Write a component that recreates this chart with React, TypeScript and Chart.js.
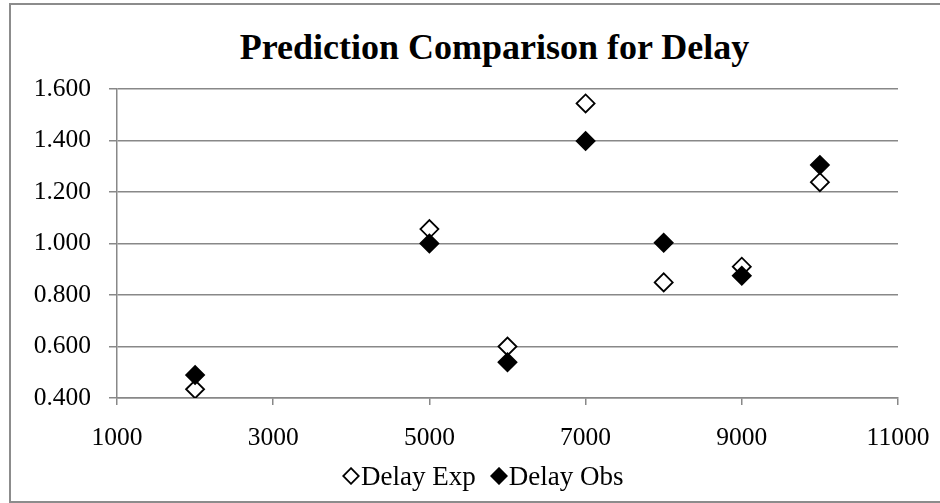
import React, { useEffect, useRef } from "react";
import { Chart, registerables } from "chart.js";

Chart.register(...registerables);

// Sample sizes on the horizontal axis
const sampleSizes = [2000, 5000, 6000, 7000, 8000, 9000, 10000];
// Expected (predicted) delay
const delayExp = [0.434, 1.056, 0.6, 1.544, 0.849, 0.91, 1.238];
// Observed delay
const delayObs = [0.489, 1.0, 0.539, 1.398, 1.003, 0.875, 1.305];

const chartTitle = "Prediction Comparison for Delay";
const seriesNames = ["Delay Exp", "Delay Obs"];

const SERIF = '"Liberation Serif", "Times New Roman", serif';
const GRID = "#888888";

function Diamond({ filled }: { filled: boolean }) {
  return (
    <svg width="18" height="18" viewBox="0 0 18 18" style={{ display: "block" }}>
      <polygon
        points="9,1.2 16.8,9 9,16.8 1.2,9"
        fill={filled ? "#000" : "#fff"}
        stroke="#000"
        strokeWidth="1.8"
      />
    </svg>
  );
}

export default function App() {
  const canvasRef = useRef<HTMLCanvasElement | null>(null);

  useEffect(() => {
    const canvas = canvasRef.current;
    if (!canvas) return;
    const toPoints = (ys: number[]) => sampleSizes.map((x, i) => ({ x, y: ys[i] }));

    const chart = new Chart(canvas, {
      type: "scatter",
      data: {
        datasets: [
          {
            label: seriesNames[0],
            data: toPoints(delayExp),
            pointStyle: "rectRot",
            pointRadius: 9,
            pointHoverRadius: 9,
            pointBorderWidth: 1.8,
            backgroundColor: "#ffffff",
            borderColor: "#000000",
            order: 1,
          },
          {
            label: seriesNames[1],
            data: toPoints(delayObs),
            pointStyle: "rectRot",
            pointRadius: 9,
            pointHoverRadius: 9,
            pointBorderWidth: 1.8,
            backgroundColor: "#000000",
            borderColor: "#000000",
            order: 0,
          },
        ],
      },
      options: {
        responsive: false,
        animation: false,
        layout: { padding: { left: 0, right: 63, top: 84, bottom: 0 } },
        plugins: {
          legend: { display: false },
          tooltip: { enabled: false },
          title: { display: false },
        },
        scales: {
          x: {
            type: "linear",
            min: 1000,
            max: 11000,
            ticks: {
              stepSize: 2000,
              color: "#000",
              padding: 17.7,
              maxRotation: 0,
              font: { family: SERIF, size: 25.5 },
              callback: (v: any) => String(v),
            },
            grid: {
              drawOnChartArea: false,
              drawTicks: true,
              tickLength: 7,
              color: GRID,
              lineWidth: 1.5,
            },
            border: { display: true, color: GRID, width: 1.5 },
            afterFit: (scale: any) => {
              scale.height = 102;
            },
          },
          y: {
            min: 0.4,
            max: 1.6,
            ticks: {
              stepSize: 0.2,
              color: "#000",
              padding: 18,
              font: { family: SERIF, size: 25.5 },
              callback: (v: any) => Number(v).toFixed(3),
            },
            grid: {
              color: GRID,
              lineWidth: 1.5,
              drawTicks: true,
              tickLength: 8,
            },
            border: { display: true, color: GRID, width: 1.5 },
            afterFit: (scale: any) => {
              scale.width = 106;
            },
          },
        },
      },
    });
    return () => chart.destroy();
  }, []);

  return (
    <div
      style={{
        position: "absolute",
        left: 0,
        top: 0,
        width: 940,
        height: 503,
        overflow: "hidden",
        background: "#fff",
      }}
    >
      <div
        style={{
          position: "absolute",
          left: 9,
          top: 3,
          width: 1000,
          height: 500,
          boxSizing: "border-box",
          border: "2px solid #8c8c8c",
        }}
      />
      <div
        style={{
          position: "absolute",
          left: 0,
          top: 25,
          width: 989,
          textAlign: "center",
          fontFamily: SERIF,
          fontWeight: "bold",
          fontSize: 36,
          lineHeight: "44px",
          color: "#000",
          whiteSpace: "nowrap",
        }}
      >
        {chartTitle}
      </div>
      <canvas
        ref={canvasRef}
        width={950}
        height={495}
        style={{ position: "absolute", left: 11, top: 5, width: 950, height: 495 }}
      />
      <div
        style={{
          position: "absolute",
          left: 342,
          top: 461,
          height: 30,
          display: "flex",
          alignItems: "center",
          fontFamily: SERIF,
          fontSize: 27,
          lineHeight: "30px",
          color: "#000",
          whiteSpace: "nowrap",
        }}
      >
        <Diamond filled={false} />
        <span style={{ marginLeft: 1 }}>{seriesNames[0]}</span>
        <span style={{ width: 14 }} />
        <Diamond filled={true} />
        <span style={{ marginLeft: 1 }}>{seriesNames[1]}</span>
      </div>
    </div>
  );
}
